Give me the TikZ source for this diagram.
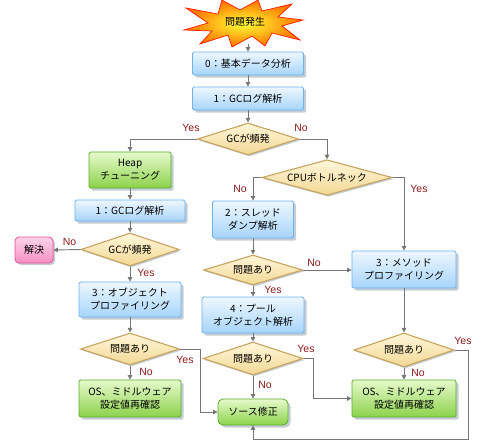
\documentclass[tikz,border=0pt]{standalone}
\usepackage{fontspec}
\setmainfont{Noto Sans CJK JP}
\newfontfamily\labfont{Liberation Sans}
\usetikzlibrary{shapes.geometric,arrows.meta,shadows}
\definecolor{bluetop}{HTML}{EEF7FF}
\definecolor{bluebot}{HTML}{A6D4FA}
\definecolor{blueline}{HTML}{6CB2EE}
\definecolor{greentop}{HTML}{E6FACB}
\definecolor{greenbot}{HTML}{8CD24C}
\definecolor{greenline}{HTML}{58AE2C}
\definecolor{pinktop}{HTML}{FDD3E8}
\definecolor{pinkbot}{HTML}{F790C4}
\definecolor{pinkline}{HTML}{E6509A}
\definecolor{diatop}{HTML}{FFF6DA}
\definecolor{diabot}{HTML}{F2D894}
\definecolor{dialine}{HTML}{C6A460}
\definecolor{connc}{HTML}{777777}
\definecolor{labred}{HTML}{8B1A1A}
\definecolor{shadowc}{HTML}{C4CCD4}
\tikzset{
  txt/.style={font=\fontsize{10}{13}\selectfont, align=center, inner sep=0pt},
  bluebox/.style={txt, rectangle, rounded corners=1.5pt, draw=blueline, line width=0.8pt,
    top color=bluetop, bottom color=bluebot,
    drop shadow={shadow xshift=2.5pt, shadow yshift=-2.5pt, fill=shadowc, opacity=1}},
  greenbox/.style={txt, rectangle, rounded corners=1.5pt, draw=greenline, line width=0.8pt,
    top color=greentop, bottom color=greenbot,
    drop shadow={shadow xshift=2.5pt, shadow yshift=-2.5pt, fill=shadowc, opacity=1}},
  roundgreen/.style={greenbox, rounded corners=5pt},
  pinkbox/.style={txt, rectangle, rounded corners=4pt, draw=pinkline, line width=0.8pt,
    top color=pinktop, bottom color=pinkbot,
    drop shadow={shadow xshift=2pt, shadow yshift=-2pt, fill=shadowc, opacity=1}},
  decision/.style={txt, diamond, aspect=3, draw=dialine, line width=1.1pt,
    top color=diatop, bottom color=diabot,
    drop shadow={shadow xshift=1.5pt, shadow yshift=-1.5pt, fill=shadowc, opacity=1}},
  conn/.style={draw=connc, line width=0.9pt, -{Triangle[length=4.5pt,width=4.5pt]}},
  lab/.style={font=\labfont\fontsize{10.5}{12}\selectfont, text=labred, inner sep=0pt},
}
\begin{document}
\begin{tikzpicture}[x=1pt,y=-1pt]
\useasboundingbox (0,0) rectangle (490,447);
% burst
\shadedraw[inner color=yellow!80!white, outer color=orange!90!red, draw=red!80!orange, line width=0.7pt]
 (303,20) -- (282,26) -- (300,40) -- (272,33) -- (265,46) -- (252,36) -- (232,47) -- (228,35)
 -- (200,44) -- (212,31) -- (184,30) -- (208,23) -- (186,8) -- (218,14) -- (222,0) -- (240,10)
 -- (258,0) -- (262,11) -- (292,4) -- (278,17) -- cycle;
\node[txt] (start) at (245,22) {問題発生};
\coordinate (startb) at (248,44);

\node[bluebox, minimum width=111pt, minimum height=23pt] (b0) at (248,63.5) {0：基本データ分析};
\node[bluebox, minimum width=111pt, minimum height=23pt] (b1) at (248,98.5) {1：GCログ解析};
\node[decision, minimum width=101pt, minimum height=32pt] (d1) at (248,139) {GCが頻発};

\node[greenbox, minimum width=82pt, minimum height=36pt] (heap) at (130,170) {Heap\\チューニング};
\node[bluebox, minimum width=110pt, minimum height=21pt] (b1L) at (130,210.5) {1：GCログ解析};
\node[decision, minimum width=98pt, minimum height=33pt] (d2L) at (130,249.5) {GCが頻発};
\node[pinkbox, minimum width=38pt, minimum height=26pt] (solved) at (34,250) {解決};
\node[bluebox, minimum width=102pt, minimum height=35pt] (b3L) at (130,299.5) {3：オブジェクト\\プロファイリング};
\node[decision, minimum width=99pt, minimum height=32pt] (d3L) at (130,349) {問題あり};
\node[greenbox, minimum width=102pt, minimum height=37pt] (osL) at (130,398.5) {OS、ミドルウェア\\設定値再確認};

\node[decision, minimum width=130pt, minimum height=31pt] (cpu) at (327,177.5) {CPUボトルネック};
\node[bluebox, minimum width=81pt, minimum height=37pt] (b2) at (253,219.5) {2：スレッド\\ダンプ解析};
\node[decision, minimum width=99pt, minimum height=30pt] (dM1) at (253,270) {問題あり};
\node[bluebox, minimum width=104pt, minimum height=37pt] (b3R) at (404,269.5) {3：メソッド\\プロファイリング};
\node[bluebox, minimum width=102pt, minimum height=36pt] (b4) at (253,315) {4：プール\\オブジェクト解析};
\node[decision, minimum width=100pt, minimum height=33pt] (dM2) at (253,358.5) {問題あり};
\node[roundgreen, minimum width=70pt, minimum height=26pt] (src) at (253,412) {ソース修正};
\node[decision, minimum width=100pt, minimum height=34pt] (dR) at (404,350) {問題あり};
\node[greenbox, minimum width=104pt, minimum height=37pt] (osR) at (404,398.5) {OS、ミドルウェア\\設定値再確認};

\coordinate (jL) at (200,349);
\coordinate (jM) at (313,358.5);
\coordinate (jR1) at (468,350);
\coordinate (jR2) at (468,439);

% connectors
\draw[conn] (startb) -- (b0);
\draw[conn] (b0) -- (b1);
\draw[conn] (b1) -- (d1);
\draw[conn] (d1.west) -| (heap.north);
\draw[conn] (d1.east) -| (cpu.north);
\draw[conn] (heap) -- (b1L);
\draw[conn] (b1L) -- (d2L);
\draw[conn] (d2L.west) -- (solved.east);
\draw[conn] (d2L.south) -- (b3L.north);
\draw[conn] (b3L) -- (d3L);
\draw[conn] (d3L.south) -- (osL.north);
\draw[conn] (d3L.east) -- (jL) |- (src.west);
\draw[conn] (cpu.west) -| (b2.north);
\draw[conn] (cpu.east) -| (b3R.north);
\draw[conn] (b2) -- (dM1);
\draw[conn] (dM1.east) -- (b3R.west |- dM1.east);
\draw[conn] (dM1.south) -- (b4.north);
\draw[conn] (b4) -- (dM2);
\draw[conn] (dM2.south) -- (src.north);
\draw[conn] (dM2.east) -- (jM) |- (osR.west);
\draw[conn] (b3R) -- (dR);
\draw[conn] (dR.south) -- (osR.north);
\draw[conn] (dR.east) -- (jR1) -- (jR2) -| (src.south);

% labels
\node[lab] at (191,128) {Yes};
\node[lab] at (301,128) {No};
\node[lab] at (69.5,242) {No};
\node[lab] at (146,273) {Yes};
\node[lab] at (146,372) {No};
\node[lab] at (185,360) {Yes};
\node[lab] at (240,189) {No};
\node[lab] at (419,189) {Yes};
\node[lab] at (314,263) {No};
\node[lab] at (273,290) {Yes};
\node[lab] at (265,385) {No};
\node[lab] at (306,349) {Yes};
\node[lab] at (418,373) {No};
\node[lab] at (463,341) {Yes};
\end{tikzpicture}
\end{document}
